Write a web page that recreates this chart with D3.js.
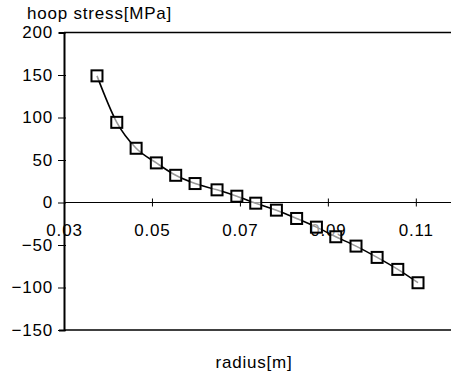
<!DOCTYPE html>
<html><head><meta charset="utf-8">
<script src="https://cdn.jsdelivr.net/npm/d3@7"></script>
<style>body{margin:0;background:#fff}svg{display:block}</style>
</head><body><svg id="c" width="451" height="377"></svg>
<script>
const radius = [0.0375,0.0420,0.0464,0.0510,0.0554,0.0598,0.0648,0.0693,0.0736,0.0783,0.0829,0.0874,0.0918,0.0964,0.1012,0.1059,0.1105];
const stress = [149,94.3,63.8,46.6,32,22.3,14.9,7.4,-0.8,-9,-18.8,-29,-40.3,-51.3,-64.6,-78.7,-94.4];
const xTicks = [0.03,0.05,0.07,0.09,0.11];
const yTicks = [200,150,100,50,0,-50,-100,-150];

const svg = d3.select("#c");
const x = d3.scaleLinear().domain([0.03,0.118]).range([64,451]);
const y = d3.scaleLinear().domain([-150,200]).range([330,32.5]);
const font = "Liberation Sans, Arial, sans-serif";
const fs = 17, ls = 0.8;

// frame lines
svg.append("line").attr("x1",64).attr("x2",451).attr("y1",y(200)).attr("y2",y(200)).attr("stroke","#000").attr("stroke-width",1.6);
svg.append("line").attr("x1",64).attr("x2",451).attr("y1",y(-150)).attr("y2",y(-150)).attr("stroke","#000").attr("stroke-width",1.6);

// y axis
const ya = d3.axisLeft(y).tickValues(yTicks).tickSize(5).tickFormat(d=>d<0?"\u2212"+Math.abs(d):d);
const gy = svg.append("g").attr("transform","translate(64,0)").call(ya);
gy.select(".domain").attr("stroke-width",2);
gy.selectAll(".tick line").attr("x2",-6).attr("x1",2);
gy.selectAll("text").attr("font-family",font).attr("font-size",fs).attr("letter-spacing",ls).attr("fill","#000").attr("x",-11);

// x axis along zero
const xa = d3.axisBottom(x).tickValues(xTicks).tickSize(4).tickFormat(d3.format(".2f"));
const gx = svg.append("g").attr("transform",`translate(0,${y(0)})`).call(xa);
gx.select(".domain").remove();
svg.append("line").attr("x1",64).attr("x2",451).attr("y1",y(0)).attr("y2",y(0)).attr("stroke","#000").attr("stroke-width",1.2);
gx.selectAll(".tick line").attr("y1",-4).attr("y2",4);
gx.selectAll("text").attr("font-family",font).attr("font-size",fs).attr("letter-spacing",ls).attr("fill","#000").attr("dy","0").attr("y",33);

// line
const line = d3.line().x((d,i)=>x(radius[i])).y(d=>y(d)).curve(d3.curveMonotoneX);
svg.append("path").datum(stress).attr("d",line).attr("fill","none").attr("stroke","#000").attr("stroke-width",1.6);

// markers
svg.selectAll("rect.m").data(stress).enter().append("rect").attr("class","m")
  .attr("x",(d,i)=>x(radius[i])-5.5).attr("y",d=>y(d)-5.5).attr("width",11).attr("height",11)
  .attr("fill","#fff").attr("fill-opacity",0.6).attr("stroke","#000").attr("stroke-width",2);

// titles
svg.append("text").attr("x",27).attr("y",19).attr("font-family",font).attr("font-size",fs).attr("letter-spacing",ls).text("hoop stress[MPa]");
svg.append("text").attr("x",254).attr("y",368).attr("text-anchor","middle").attr("font-family",font).attr("font-size",fs).attr("letter-spacing",ls).text("radius[m]");
</script></body></html>
